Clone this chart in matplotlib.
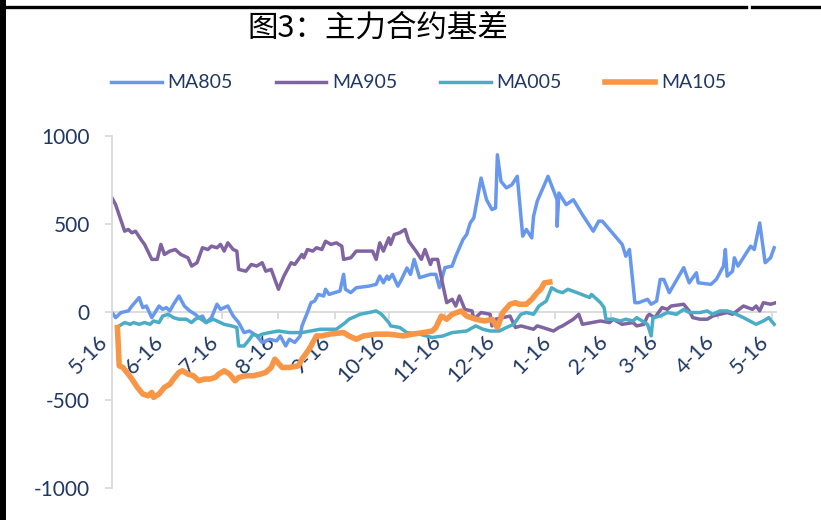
import matplotlib
matplotlib.use("Agg")
import matplotlib.pyplot as plt
import matplotlib.dates as mdates
from matplotlib.lines import Line2D
import pandas as pd

plt.rcParams['font.family'] = ['Lato', 'DejaVu Sans']
plt.rcParams['axes.unicode_minus'] = False

# 基准日 2017-05-16, x 为距基准日的天数
start = pd.Timestamp("2017-05-16")

tick_dates = ["2017-05-16", "2017-06-16", "2017-07-16", "2017-08-16", "2017-09-16",
              "2017-10-16", "2017-11-16", "2017-12-16", "2018-01-16", "2018-02-16",
              "2018-03-16", "2018-04-16", "2018-05-16"]
tick_labels = ["5-16", "6-16", "7-16", "8-16", "9-16", "10-16", "11-16", "12-16",
               "1-16", "2-16", "3-16", "4-16", "5-16"]

ma805_days = [0, 2, 5, 9, 11, 15, 17, 19, 22, 26, 28, 30, 32, 34, 37, 40, 43, 46, 48, 50,
              52, 55, 58, 60, 62, 64, 67, 70, 71, 73, 76, 80, 83, 87, 91, 93, 96, 98, 101,
              104, 105, 108, 110, 112, 114, 117, 118, 120, 123, 126, 128, 129, 132, 135,
              142, 146, 148, 150, 152, 153, 155, 158, 160, 163, 165, 167, 170, 176, 179,
              181, 184, 188, 190, 194, 196, 198, 200, 204, 207, 210, 212, 213, 215, 218,
              221, 224, 227, 229, 232, 233, 235, 241, 246, 246, 247, 251, 255, 260, 266,
              269, 271, 282, 284, 286, 289, 291, 296, 298, 301, 303, 305, 308, 316, 319,
              323, 324, 331, 334, 338, 339, 340, 343, 344, 346, 353, 355, 358, 361, 364, 366]
ma805 = [-3, -32, -3, 6, 34, 82, 25, 34, -32, 34, 15, 25, 6, 44, 91, 34, 6, -13, -32, -23,
         -60, -32, 44, 15, 25, 34, -23, -60, -79, -117, -108, -136, -173, -155, -164, -136,
         -193, -155, -173, -136, -79, -3, 53, 62, 100, 91, 129, 100, 110, 119, 214, 129, 110,
         138, 147, 157, 204, 166, 204, 185, 214, 147, 185, 250, 214, 299, 195, 214, 214,
         138, 252, 261, 317, 412, 440, 506, 535, 761, 638, 582, 591, 893, 742, 705, 723,
         771, 431, 469, 421, 544, 629, 771, 638, 487, 676, 610, 638, 553, 459, 516, 516,
         384, 317, 355, 53, 53, 72, 44, 62, 185, 185, 110, 252, 166, 223, 166, 157, 185,
         261, 355, 204, 232, 308, 261, 374, 355, 506, 280, 308, 365]

ma905_days = [0, 2, 7, 9, 11, 13, 16, 18, 22, 25, 27, 29, 32, 35, 38, 42, 44, 47, 50, 53,
              55, 58, 60, 62, 64, 67, 69, 70, 74, 77, 80, 83, 85, 88, 90, 92, 95, 99, 101,
              105, 106, 108, 111, 113, 116, 118, 121, 124, 127, 128, 132, 135, 144, 146,
              148, 150, 153, 154, 156, 159, 162, 164, 166, 168, 171, 173, 176, 177, 180,
              183, 185, 188, 190, 192, 195, 199, 200, 204, 209, 210, 212, 220, 223, 226,
              233, 235, 238, 244, 247, 249, 252, 255, 258, 260, 270, 275, 277, 282, 288,
              290, 294, 296, 297, 300, 304, 307, 309, 316, 319, 321, 325, 329, 332, 336,
              340, 343, 349, 354, 356, 358, 360, 364, 367]
ma905 = [648, 610, 459, 469, 450, 459, 412, 384, 299, 299, 384, 327, 346, 355, 327, 308,
         261, 280, 365, 355, 374, 365, 384, 346, 393, 355, 346, 242, 232, 270, 261, 280,
         232, 242, 185, 129, 204, 280, 270, 327, 308, 355, 346, 365, 355, 402, 384, 393,
         374, 299, 308, 346, 346, 299, 393, 346, 421, 384, 440, 450, 469, 402, 374, 346,
         299, 355, 270, 299, 299, 147, 53, 72, 34, 91, 15, 6, -41, -3, -13, -79, -41, -23,
         -88, -79, -98, -79, -88, -108, -88, -79, -60, -41, -13, -70, -51, -60, -41, -70,
         -60, -79, -70, -23, -13, -32, 25, 15, 34, 44, 6, -32, -41, -41, -23, -13, -3, -13,
         34, 15, 34, 6, 53, 44, 53]

ma005_days = [4, 7, 10, 12, 15, 18, 21, 23, 26, 28, 31, 34, 37, 41, 44, 46, 48, 52, 56, 58,
              62, 66, 69, 70, 73, 76, 78, 81, 83, 87, 92, 98, 105, 115, 124, 129, 131, 135,
              137, 142, 146, 149, 153, 154, 159, 163, 170, 177, 183, 188, 196, 201, 205,
              209, 214, 218, 222, 226, 229, 233, 236, 240, 243, 246, 249, 252, 257, 264,
              265, 270, 272, 273, 277, 281, 284, 288, 290, 293, 296, 298, 299, 303, 307,
              312, 316, 319, 325, 329, 332, 336, 340, 343, 349, 356, 360, 363, 366]
ma005 = [-79, -60, -70, -60, -70, -60, -70, -51, -60, -23, -13, -32, -41, -41, -60, -41,
         -32, -60, -41, -51, -70, -79, -88, -193, -193, -155, -126, -136, -126, -117, -108,
         -117, -117, -98, -98, -60, -41, -23, -13, -3, 6, -13, -60, -79, -88, -117, -126,
         -145, -136, -117, -108, -79, -98, -108, -108, -88, -70, -13, -3, -13, 34, 62, 138,
         119, 110, 129, 110, 82, 100, 53, 25, -41, -41, -51, -41, -51, -32, -51, -70, -136,
         -32, -23, -3, -13, 15, -3, -3, 6, -13, 6, 6, -3, -32, -70, -51, -32, -70]

ma105_days = [3, 4, 6, 9, 11, 14, 17, 20, 22, 23, 26, 29, 32, 34, 37, 39, 42, 45, 48, 51,
              54, 57, 59, 62, 65, 68, 70, 74, 78, 82, 85, 88, 90, 94, 98, 103, 105, 109,
              113, 116, 120, 128, 131, 135, 139, 146, 153, 161, 166, 172, 177, 179, 182,
              185, 188, 193, 196, 201, 206, 210, 213, 216, 220, 223, 225, 229, 232, 235,
              237, 239, 242]
ma105 = [-88, -306, -315, -353, -381, -428, -466, -476, -457, -485, -466, -428, -410, -381,
         -343, -334, -353, -362, -391, -381, -381, -372, -353, -334, -353, -391, -372, -362,
         -362, -353, -343, -315, -268, -315, -315, -306, -268, -211, -136, -136, -126, -117,
         -136, -155, -136, -126, -126, -136, -126, -117, -108, -88, -23, -41, -13, 6, -23,
         -41, -51, -41, -88, -3, 44, 53, 44, 44, 72, 110, 129, 166, 170]


def to_num(days):
    return mdates.date2num(start + pd.to_timedelta(days, unit="D"))


label_color = "#1F3864"
fig = plt.figure(figsize=(8.21, 5.2), dpi=100)
ax = fig.add_axes([112 / 821, 1 - 488 / 520, 664 / 821, 352 / 520])

ax.plot(to_num(ma805_days), ma805, color="#6897EE", lw=2.5, label="MA805")
ax.plot(to_num(ma905_days), ma905, color="#8064A2", lw=2.5, label="MA905")
ax.plot(to_num(ma005_days), ma005, color="#4BACC6", lw=2.5, label="MA005")
ax.plot(to_num(ma105_days), ma105, color="#F79646", lw=4.0, label="MA105")

ax.set_ylim(-1000, 1000)
ax.set_yticks([-1000, -500, 0, 500, 1000])
ax.set_xlim(to_num(0), to_num(367))
ax.set_xticks(mdates.date2num(pd.to_datetime(tick_dates)))
ax.set_xticklabels(tick_labels)

for s in ["top", "right"]:
    ax.spines[s].set_visible(False)
ax.spines["bottom"].set_position(("data", 0))
ax.spines["bottom"].set_color("#D9D9D9")
ax.spines["left"].set_color("#D9D9D9")
ax.spines["bottom"].set_linewidth(1.3)
ax.spines["left"].set_linewidth(1.3)
ax.spines["bottom"].set_zorder(0)
ax.tick_params(axis="y", colors="#D9D9D9", labelcolor=label_color, labelsize=15,
               length=5, width=1.3, pad=11)
ax.tick_params(axis="x", colors="#D9D9D9", labelcolor=label_color, labelsize=15.5,
               length=5, width=1.3, pad=9, labelrotation=45)
for lab in ax.get_xticklabels():
    lab.set_horizontalalignment("right")
    lab.set_verticalalignment("top")

fig.text(0.46, 1 - 28 / 520, "图3：主力合约基差", ha="center", va="center",
         fontsize=22, family=["Noto Sans CJK SC", "DejaVu Sans"], color="black")

leg = fig.legend(loc="center", bbox_to_anchor=(0.51, 1 - 83 / 520), ncol=4, frameon=False,
                 fontsize=14, handlelength=2.6, handletextpad=0.3, columnspacing=2.2)
for t in leg.get_texts():
    t.set_color(label_color)

# 外框线
fig.add_artist(Line2D([3 / 821, 3 / 821], [0, 1], color="black", lw=4.3,
                      transform=fig.transFigure))
fig.add_artist(Line2D([0, 746 / 821], [1 - 7 / 520, 1 - 7 / 520], color="black", lw=2.4,
                      transform=fig.transFigure))
fig.add_artist(Line2D([752 / 821, 1], [1 - 7 / 520, 1 - 7 / 520], color="black", lw=2.4,
                      transform=fig.transFigure))

fig.savefig("out.png", dpi=100)
